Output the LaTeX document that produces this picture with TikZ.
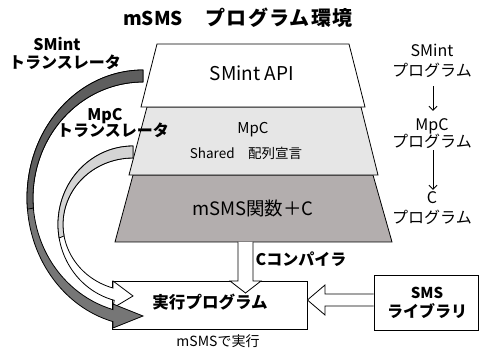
\documentclass[tikz,border=0pt]{standalone}
\usepackage{fontspec}
\setmainfont{Noto Sans CJK JP}
\usetikzlibrary{arrows.meta,calc}
\definecolor{layerTop}{HTML}{FFFFFF}
\definecolor{layerMid}{HTML}{E6E6E6}
\definecolor{layerLow}{HTML}{B3AEAE}
\definecolor{darkBack}{HTML}{5E5E5E}
\definecolor{darkFront}{HTML}{767676}
\definecolor{lightBack}{HTML}{D4D4D4}
\begin{document}
\begin{tikzpicture}[x=1pt,y=-1pt,
  outline/.style={draw=black,line width=0.8pt,line join=miter},
  lbl/.style={inner sep=0pt,text height=0.87em,text depth=0.13em},
  sz/.style={font=\fontsize{#1}{#1}\selectfont},
  bsz/.style={font=\bfseries\fontsize{#1}{#1}\selectfont},
  flow/.style={line width=0.8pt,-{Straight Barb[length=4pt,width=8pt]}},
  boxnode/.style={outline,fill=white,inner sep=0pt}]
\useasboundingbox (0,0) rectangle (479,352);

% ---- title
\node[lbl,bsz=19] (ttlA) at (153,22) {mSMS};
\node[lbl,bsz=20] (ttlB) at (279,22) {\addfontfeature{LetterSpace=6}プログラム環境};

% ---- three stacked layers (lowest first)
\path[outline,fill=layerLow] (133,175) -- (373,175) -- (392,242) -- (115,242) -- cycle;
\path[outline,fill=layerMid] (147,107) -- (361,107) -- (378,175) -- (129,175) -- cycle;
\path[outline,fill=layerTop] (157,44) -- (349,44) -- (365,107) -- (141,107) -- cycle;

\node[lbl,sz=19] (api) at (252,77) {SMint API};
\node[lbl,sz=15] (mpc) at (253,130) {MpC};
\node[lbl,sz=13.5] (shared) at (246,155) {Shared　配列宣言};
\node[lbl,sz=18.5] (msmsc) at (253,212) {mSMS関数＋C};

% ---- executable and library boxes
\node[boxnode,minimum width=195pt,minimum height=48pt] (exe) at (209.5,305) {};
\node[lbl,bsz=16.5] (exeT) at (210,305) {実行プログラム};
\node[lbl,sz=14] (run) at (218,343) {mSMSで実行};

\node[boxnode,minimum width=104pt,minimum height=55pt] (lib) at (426,302.5) {};
\node[lbl,bsz=15] (libA) at (427,295) {SMS};
\node[lbl,bsz=16] (libB) at (427,314) {ライブラリ};

% ---- MpC translator arrow (light)
\coordinate (lc) at (133,224.4);
\path[outline,fill=white]
  ($(lc)+(90:75pt and 78.4pt)$) arc[start angle=90,end angle=255.5,x radius=75pt,y radius=78.4pt]
  -- (113,308) -- (133,296) -- (113,281)
  -- ($(lc)+(253.4:70pt and 66.4pt)$) arc[start angle=253.4,end angle=90,x radius=70pt,y radius=66.4pt]
  -- cycle;
\path[outline,fill=lightBack]
  ($(lc)+(90:75pt and 78.4pt)$) arc[start angle=90,end angle=190,x radius=75pt,y radius=78.4pt]
  -- ($(lc)+(190:70pt and 66.4pt)$) arc[start angle=190,end angle=90,x radius=70pt,y radius=66.4pt]
  -- cycle;

% ---- SMint translator arrow (dark)
\coordinate (dc) at (143,198);
\path[outline,fill=darkFront]
  ($(dc)+(90:116pt and 128pt)$) arc[start angle=90,end angle=255,x radius=116pt,y radius=128pt]
  -- (113,328) -- (143,316) -- (113,304)
  -- ($(dc)+(254.2:110pt and 116pt)$) arc[start angle=254.2,end angle=90,x radius=110pt,y radius=116pt]
  -- cycle;
\path[outline,fill=darkBack]
  ($(dc)+(90:116pt and 128pt)$) arc[start angle=90,end angle=185,x radius=116pt,y radius=128pt]
  -- ($(dc)+(185:110pt and 116pt)$) arc[start angle=185,end angle=90,x radius=110pt,y radius=116pt]
  -- cycle;

\node[lbl,bsz=16] (smT1) at (57,47) {SMint};
\node[lbl,bsz=16] (smT2) at (65,65) {トランスレータ};
\node[lbl,bsz=16] (mpT1) at (105,117) {MpC};
\node[lbl,bsz=16] (mpT2) at (113,133) {トランスレータ};

% ---- compiler arrow (down) and library arrow (left)
\path[outline,fill=white] (238,242) -- (238,281) -- (230,281) -- (245.5,293) -- (261,281) -- (253,281) -- (253,242);
\node[lbl,bsz=16] (ccT) at (301,262) {Cコンパイラ};

\path[outline,fill=white] (lib.west |- 0,294) -- (325,294) -- (325,285) -- (exe.east |- 0,300) -- (325,315) -- (325,306) -- (lib.west |- 0,306);

% ---- program flow column
\node[lbl,sz=16] (pA1) at (432,53) {SMint};
\node[lbl,sz=16] (pA2) at (432,73) {プログラム};
\node[lbl,sz=16] (pB1) at (432,127) {MpC};
\node[lbl,sz=16] (pB2) at (432,144) {プログラム};
\node[lbl,sz=16] (pC1) at (432,200) {C};
\node[lbl,sz=16] (pC2) at (432,220) {プログラム};
\draw[flow,shorten <=8pt,shorten >=11pt] (pA2.south -| 433,0) -- (pB1.north -| 433,0);
\draw[flow,shorten <=1pt,shorten >=5pt] (pB2.south -| 433,0) -- (pC1.north -| 433,0);
\end{tikzpicture}
\end{document}
